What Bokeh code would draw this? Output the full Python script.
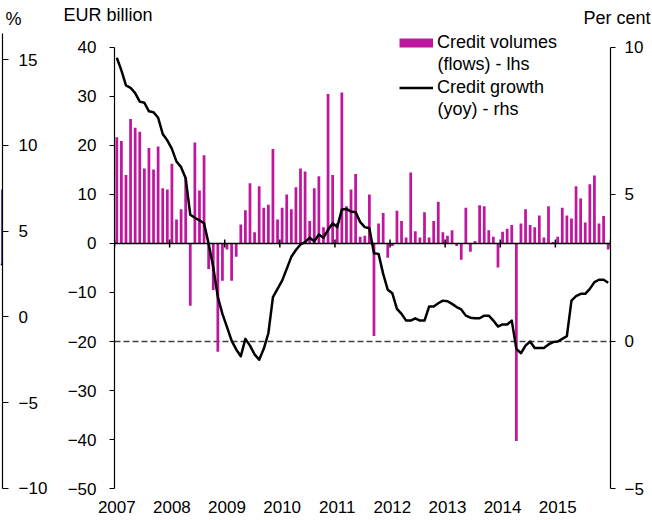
from bokeh.plotting import figure
from bokeh.models import (Range1d, LinearAxis, FixedTicker, Legend, LegendItem,
                          Label, CustomJSTickFormatter)
from bokeh.layouts import row, column
from bokeh.embed import file_html
from bokeh.resources import INLINE

# ---------------- data ----------------
years = ["2007", "2008", "2009", "2010", "2011", "2012", "2013", "2014", "2015"]

# monthly credit volumes (flows), EUR billion, Jan 2007 - Dec 2015 (lhs)
volumes = [
    21.7, 20.9, 14.0, 25.4, 23.6, 22.8, 15.3, 19.5, 15.1, 19.8, 11.3, 11.0,
    16.3, 4.9, 7.0, 13.5, -12.7, 20.6, 10.8, 18.0, -5.2, -9.5, -22.1, -7.6,
    -1.2, -7.6, -2.7, 3.9, 6.8, 12.3, 2.3, 11.7, 7.3, 7.9, 19.3, 4.9,
    7.3, 10.0, 7.0, 11.5, 15.3, 14.7, 4.6, 11.3, 13.7, 3.3, 30.5, 14.0,
    4.2, 30.8, 7.6, 11.0, 14.2, 1.4, 1.6, 10.0, -18.9, 4.1, 6.2, -2.9,
    -0.5, 6.7, 4.6, 1.2, 14.5, 2.5, 1.2, 6.4, 1.2, 4.6, 8.5, 2.3,
    1.6, 2.7, -0.5, -3.3, 7.3, -1.7, 0.5, 7.8, 7.6, 2.7, 1.4, -4.9,
    2.4, 3.0, 3.8, -40.3, 4.1, 7.0, 3.8, 3.3, 5.7, 1.2, 7.6, 0.3,
    1.4, 7.3, 5.7, 5.1, 11.7, 9.2, 4.3, 12.1, 13.9, 4.1, 5.6, -1.2,
]

# credit growth (yoy), per cent (rhs)
growth = [
    9.65, 9.22, 8.71, 8.63, 8.45, 8.16, 8.12, 7.83, 7.80, 7.61, 7.06, 6.84,
    6.55, 6.12, 5.93, 5.55, 4.31, 4.21, 4.12, 4.02, 3.32, 2.53, 1.51, 0.94,
    0.49, 0.03, -0.27, -0.50, 0.09, -0.14, -0.44, -0.62, -0.25, 0.28, 1.51, 1.79,
    2.07, 2.47, 2.88, 3.11, 3.30, 3.38, 3.53, 3.41, 3.64, 3.53, 3.80, 4.02,
    3.89, 4.49, 4.51, 4.42, 4.40, 4.06, 3.89, 3.85, 3.00, 2.98, 2.30, 1.76,
    1.64, 1.11, 0.94, 0.71, 0.71, 0.79, 0.71, 0.71, 1.19, 1.19, 1.30, 1.39,
    1.37, 1.28, 1.17, 1.09, 0.88, 0.81, 0.79, 0.79, 0.88, 0.88, 0.71, 0.51,
    0.58, 0.58, 0.71, -0.25, -0.40, -0.14, 0.00, -0.22, -0.22, -0.22, -0.10, -0.02,
    0.00, 0.09, 0.18, 1.39, 1.54, 1.62, 1.62, 1.79, 2.02, 2.10, 2.10, 2.00,
]
months = list(range(len(volumes)))

lhs_ticks = [-50, -40, -30, -20, -10, 0, 10, 20, 30, 40]
rhs_ticks = [-5, 0, 5, 10]
year_ticks = [12 * k for k in range(len(years))]
boundary_ticks = [12 * k - 0.5 for k in range(len(years) + 1)]

# fragment of a neighbouring chart on the far left
strip_ticks = [-10, -5, 0, 5, 10, 15]
strip_bar_bottom = [3.05]
strip_bar_top = [7.42]
strip_line = [3.05, 3.05]

FONT = "Liberation Sans"
MAGENTA = "#C0169E"
TICK_SIZE = "17px"
TEXT_SIZE = "18px"
NAN = float("nan")


def bare(fig):
    fig.grid.visible = False
    fig.outline_line_color = None
    fig.background_fill_color = "white"
    fig.border_fill_color = "white"


def style_axis(ax, tick_out, standoff):
    ax.major_tick_out = tick_out
    ax.major_tick_in = 0
    ax.minor_tick_line_color = None
    ax.major_label_standoff = standoff
    ax.axis_line_color = "black"
    ax.axis_line_width = 1.2
    ax.major_tick_line_color = "black"
    ax.major_tick_line_width = 1.2
    ax.major_label_text_font = FONT
    ax.major_label_text_font_size = TICK_SIZE
    ax.major_label_text_color = "black"


def text_label(fig, x, y, text, align="left"):
    fig.add_layout(Label(x=x, y=y, text=text, text_font=FONT,
                         text_font_size=TEXT_SIZE, text_color="black",
                         text_align=align, text_baseline="middle"))


# ---------------- header strip (unit captions) ----------------
head = figure(width=652, height=31, x_range=Range1d(0, 652),
              y_range=Range1d(31, 0),
              x_axis_location=None, y_axis_location=None,
              toolbar_location=None, output_backend="svg",
              min_border_left=0, min_border_right=0,
              min_border_top=0, min_border_bottom=0)
bare(head)
text_label(head, 5, 18, "%")
text_label(head, 63, 14, "EUR billion")
text_label(head, 650, 17, "Per cent", align="right")

# ---------------- left fragment ----------------
strip = figure(width=50, height=489, x_range=Range1d(0, 1),
               y_range=Range1d(-10.117, 16.632),
               x_axis_location=None, y_axis_location=None,
               toolbar_location=None, output_backend="svg",
               min_border_left=0, min_border_right=0,
               min_border_top=0, min_border_bottom=30)
bare(strip)
strip.vbar(x=[0.7], width=0.6, bottom=strip_bar_bottom, top=strip_bar_top,
           fill_color="#0000FF", line_color=None)
strip.line(x=[0, 1], y=strip_line, line_color="black", line_width=1.5)
sax = LinearAxis(ticker=FixedTicker(ticks=strip_ticks), bounds=(-10, 16.5))
style_axis(sax, 6, 10)
strip.add_layout(sax, "right")

# ---------------- main chart ----------------
p = figure(width=602, height=489, x_range=Range1d(-0.5, 107.5),
           y_range=Range1d(-50.408, 43.265),
           x_axis_location=None, y_axis_location=None,
           toolbar_location=None, output_backend="svg",
           min_border_left=64, min_border_right=42,
           min_border_top=0, min_border_bottom=30)
p.extra_y_ranges = {"rhs": Range1d(-5.068, 10.544)}
bare(p)

p.hspan(y=[0], y_range_name="rhs", line_color="#404040", line_width=1.5,
        line_dash="6 3")
p.vbar(x=months, top=volumes, bottom=0, width=0.6,
       fill_color=MAGENTA, line_color=None)
p.hspan(y=[0], line_color="black", line_width=1.5)
p.segment(x0=boundary_ticks, x1=boundary_ticks,
          y0=[-0.8] * len(boundary_ticks), y1=[0.8] * len(boundary_ticks),
          line_color="black", line_width=1.5)
gl = p.line(x=months, y=growth, y_range_name="rhs", line_color="black",
            line_width=2.5, line_join="round")
# legend swatch for the bars (one undrawable point)
proxy = p.line(x=[NAN], y=[NAN], line_color=MAGENTA, line_width=9)

lax = LinearAxis(ticker=FixedTicker(ticks=lhs_ticks), bounds=(-50, 40))
style_axis(lax, 5, 13)
p.add_layout(lax, "left")

rax = LinearAxis(y_range_name="rhs", ticker=FixedTicker(ticks=rhs_ticks),
                 bounds=(-5, 10))
style_axis(rax, 5, 9)
p.add_layout(rax, "right")

yax = LinearAxis(ticker=FixedTicker(ticks=year_ticks),
                 formatter=CustomJSTickFormatter(
                     args={"years": years},
                     code="const i = Math.round(tick / 12); return (i >= 0 && i < years.length) ? years[i] : '';"))
style_axis(yax, 0, 10)
yax.axis_line_color = None
yax.major_tick_line_color = None
p.add_layout(yax, "below")

legend = Legend(items=[LegendItem(label="Credit volumes", renderers=[proxy]),
                       LegendItem(label="Credit growth", renderers=[gl])],
                location=(285, 392.5), glyph_width=34, glyph_height=21,
                label_height=21, label_standoff=4, spacing=24, padding=0,
                margin=0, border_line_color=None, background_fill_alpha=0,
                label_text_font=FONT, label_text_font_size=TEXT_SIZE,
                label_text_color="black")
p.add_layout(legend)

text_label(p, 69.83, 36.73, "(flows) - lhs")
text_label(p, 69.83, 27.55, "(yoy) - rhs")

layout = column(head, row(strip, p))
open("out.html", "w").write(file_html(layout, INLINE))
